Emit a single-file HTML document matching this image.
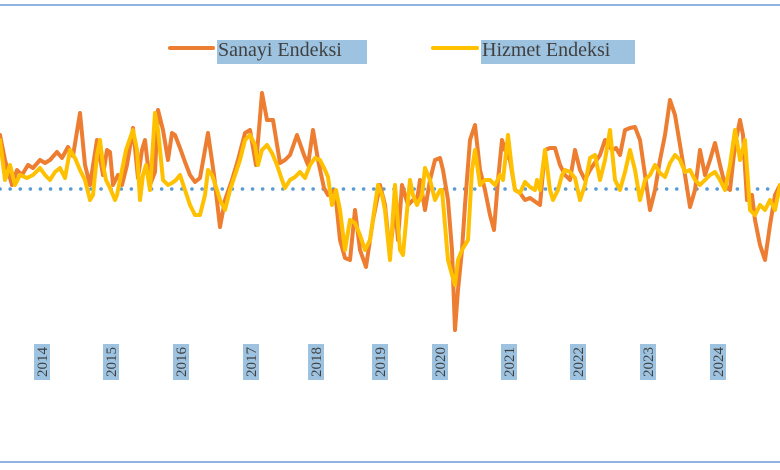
<!DOCTYPE html>
<html><head><meta charset="utf-8"><style>
body{margin:0;background:#fff}
svg{display:block}
text{font-family:"Liberation Serif",serif;fill:#404040}
</style></head><body>
<svg width="780" height="470" viewBox="0 0 780 470" xmlns="http://www.w3.org/2000/svg">
<rect x="0" y="0" width="780" height="470" fill="#fff"/>
<line x1="0" y1="5" x2="780" y2="5" stroke="#8fb4e3" stroke-width="2"/>
<line x1="0" y1="462" x2="780" y2="462" stroke="#8fb4e3" stroke-width="2"/>
<!-- legend -->
<line x1="170" y1="48" x2="213" y2="48" stroke="#ed7d31" stroke-width="4" stroke-linecap="round"/>
<rect x="217" y="40" width="150" height="24" fill="#9dc3e0"/>
<text x="218" y="56" font-size="20">Sanayi Endeksi</text>
<line x1="433" y1="48" x2="477" y2="48" stroke="#ffc000" stroke-width="4" stroke-linecap="round"/>
<rect x="481" y="40" width="154" height="24" fill="#9dc3e0"/>
<text x="482" y="56" font-size="20">Hizmet Endeksi</text>
<!-- dotted baseline -->
<line x1="0" y1="189" x2="780" y2="189" stroke="#5b9bd5" stroke-width="3.5" stroke-dasharray="0.1 10" stroke-linecap="round"/>
<!-- orange -->
<polyline fill="none" stroke="#ed7d31" stroke-width="4" stroke-linejoin="round" stroke-linecap="round" points="0,135 5,160 12,185 17,170 22,175 28,165 33,168 40,160 45,163 50,160 57,152 62,158 68,147 73,156 80,113 85,165 90,185 97,140 103,175 107,150 110,152 113,185 118,175 122,185 127,165 133,128 138,178 142,150 145,140 150,185 155,172 158,110 163,130 168,160 172,133 175,135 180,148 185,162 190,175 195,182 200,178 208,133 214,175 220,227 225,200 232,180 238,160 245,133 250,130 256,165 262,93 267,120 273,120 280,163 285,160 290,155 297,135 304,155 308,165 313,130 318,160 324,188 328,195 335,190 340,240 345,258 350,260 355,210 360,250 366,267 373,220 380,185 385,205 390,255 395,205 398,240 402,185 408,205 413,200 417,200 420,180 425,210 430,180 435,160 440,158 443,170 448,200 452,250 455,330 458,290 462,250 465,205 470,140 475,125 480,170 485,190 490,215 494,230 498,180 502,140 505,150 510,160 515,190 520,193 525,200 530,198 540,205 545,150 550,148 555,148 560,165 565,175 570,180 575,150 580,170 585,180 590,170 600,155 605,140 612,150 616,148 620,155 625,130 630,128 635,127 640,140 645,175 650,210 655,190 660,160 665,135 670,100 675,115 680,145 685,175 690,207 695,190 700,150 705,175 710,160 715,143 720,165 725,185 730,190 735,145 740,120 743,135 747,200 752,195 755,220 760,245 765,260 770,225 775,195 780,185"/>
<!-- yellow -->
<polyline fill="none" stroke="#ffc000" stroke-width="4" stroke-linejoin="round" stroke-linecap="round" points="0,140 5,180 10,165 15,185 20,175 27,178 33,175 40,168 45,175 50,180 55,172 60,168 65,178 70,150 75,158 80,170 85,180 90,200 93,195 97,155 100,140 103,165 106,180 110,188 115,200 117,195 122,170 126,150 133,130 137,150 140,200 143,175 146,165 150,190 155,113 158,130 163,180 168,185 172,183 176,180 180,175 185,190 190,205 195,215 200,215 205,195 208,170 212,175 217,190 220,200 225,210 230,190 235,175 240,160 245,140 250,135 255,145 258,165 262,150 267,145 272,153 277,165 282,180 285,188 290,180 295,177 300,172 305,178 310,165 315,158 320,160 325,170 328,177 332,205 336,190 340,210 345,250 350,220 355,223 360,235 365,250 370,240 375,205 378,185 382,195 385,210 390,260 395,185 400,250 403,255 408,200 410,180 413,195 417,205 422,195 425,168 430,180 435,200 440,190 442,190 445,225 448,260 452,275 455,285 458,260 462,250 465,245 468,240 472,170 475,150 480,185 485,180 490,180 495,185 500,175 503,180 508,135 512,170 515,190 520,193 525,182 530,187 535,190 537,180 540,190 545,150 550,190 553,200 558,190 562,175 565,170 570,172 575,178 580,200 585,185 590,158 595,155 600,180 605,160 610,130 615,180 620,190 625,172 630,150 635,170 640,200 645,180 650,175 655,165 660,173 665,177 670,163 675,155 680,160 685,172 690,170 695,180 700,185 705,180 710,175 715,172 720,180 725,190 730,165 735,130 740,160 745,140 750,210 755,215 760,205 765,210 770,200 775,210 780,185"/>
<!-- year labels -->
<g font-size="15">
<g transform="translate(42,362) rotate(-90)"><rect x="-18" y="-8" width="36" height="16" fill="#9dc3e0"/><text x="0" y="5" text-anchor="middle">2014</text></g>
<g transform="translate(111,362) rotate(-90)"><rect x="-18" y="-8" width="36" height="16" fill="#9dc3e0"/><text x="0" y="5" text-anchor="middle">2015</text></g>
<g transform="translate(181,362) rotate(-90)"><rect x="-18" y="-8" width="36" height="16" fill="#9dc3e0"/><text x="0" y="5" text-anchor="middle">2016</text></g>
<g transform="translate(251,362) rotate(-90)"><rect x="-18" y="-8" width="36" height="16" fill="#9dc3e0"/><text x="0" y="5" text-anchor="middle">2017</text></g>
<g transform="translate(316,362) rotate(-90)"><rect x="-18" y="-8" width="36" height="16" fill="#9dc3e0"/><text x="0" y="5" text-anchor="middle">2018</text></g>
<g transform="translate(380,362) rotate(-90)"><rect x="-18" y="-8" width="36" height="16" fill="#9dc3e0"/><text x="0" y="5" text-anchor="middle">2019</text></g>
<g transform="translate(440,362) rotate(-90)"><rect x="-18" y="-8" width="36" height="16" fill="#9dc3e0"/><text x="0" y="5" text-anchor="middle">2020</text></g>
<g transform="translate(509,362) rotate(-90)"><rect x="-18" y="-8" width="36" height="16" fill="#9dc3e0"/><text x="0" y="5" text-anchor="middle">2021</text></g>
<g transform="translate(578,362) rotate(-90)"><rect x="-18" y="-8" width="36" height="16" fill="#9dc3e0"/><text x="0" y="5" text-anchor="middle">2022</text></g>
<g transform="translate(648,362) rotate(-90)"><rect x="-18" y="-8" width="36" height="16" fill="#9dc3e0"/><text x="0" y="5" text-anchor="middle">2023</text></g>
<g transform="translate(718,362) rotate(-90)"><rect x="-18" y="-8" width="36" height="16" fill="#9dc3e0"/><text x="0" y="5" text-anchor="middle">2024</text></g>
</g>
</svg>
</body></html>
